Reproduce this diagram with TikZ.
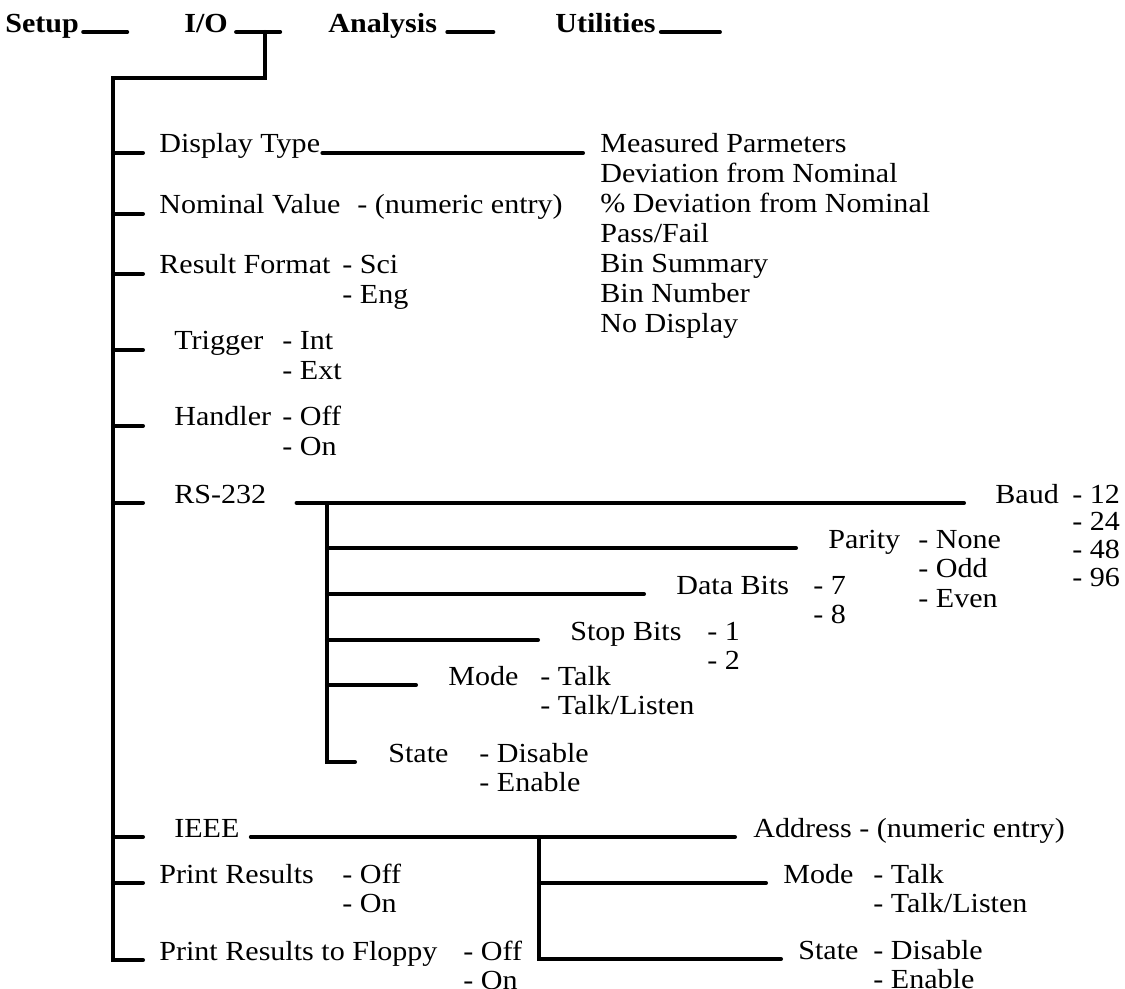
\documentclass[tikz,border=0pt]{standalone}
\usepackage{fontspec}
\setmainfont{Liberation Serif}[FakeStretch=1.09]
\usepackage{tikz}
\usetikzlibrary{calc}
\newcommand{\optlist}[1]{\begin{tabular}[t]{@{}l@{}}#1\end{tabular}}

\begin{document}
\begin{tikzpicture}[x=0.02cm,y=-0.02cm]
            \tikzstyle{menu} = [inner sep=0pt, anchor=base west, font=\fontsize{15.7}{17}\selectfont\bfseries]
            \tikzstyle{item} = [inner sep=0pt, anchor=base west, font=\fontsize{15.7}{17}\selectfont]
            \tikzstyle{wire} = [line width=2.3pt, line cap=round]
            \useasboundingbox (0,0) rectangle (1125,989);

            \node [menu] (setup) at (5,33) {Setup};
            \node [menu] (io) at (184,33) {I/O};
            \node [menu] (analysis) at (328,33) {Analysis};
            \node [menu] (utilities) at (555,33) {Utilities};

            \coordinate (ioDrop) at (265,32);
            \coordinate (trunkTop) at (113,78);
            \node [item] (displayType) at (159,153) {Display Type};
            \node [item] (measured) at (600,153) {\optlist{Measured Parmeters\\Deviation from Nominal\\\% Deviation from Nominal\\Pass/Fail\\Bin Summary\\Bin Number\\No Display}};
            \node [item] (nominalValue) at (159,214) {Nominal Value};
            \node [item] (nominalOpt) at (357,214) {- (numeric entry)};
            \node [item] (resultFormat) at (159,274) {Result Format};
            \node [item] (resultOpt) at (342,274) {\optlist{- Sci\\- Eng}};
            \node [item] (trigger) at (174,350) {Trigger};
            \node [item] (triggerOpt) at (282,350) {\optlist{- Int\\- Ext}};
            \node [item] (handler) at (174,426) {Handler};
            \node [item] (handlerOpt) at (282,426) {\optlist{- Off\\- On}};

            \node [item] (rs) at (174,503) {RS-232};
            \coordinate (rsBus) at (327,503);
            \node [item] (baud) at (995,503) {Baud};
            \node [item, font=\fontsize{15.7}{15.9}\selectfont] (baudOpt) at (1072,503) {\optlist{- 12\\- 24\\- 48\\- 96}};
            \node [item] (parity) at (828,548) {Parity};
            \node [item] (parityOpt) at (918,548) {\optlist{- None\\- Odd\\- Even}};
            \node [item] (dataBits) at (676,594) {Data Bits};
            \node [item] (dataOpt) at (813,594) {\optlist{- 7\\- 8}};
            \node [item] (stopBits) at (570,640) {Stop Bits};
            \node [item] (stopOpt) at (707,640) {\optlist{- 1\\- 2}};
            \node [item] (rsMode) at (448,685) {Mode};
            \node [item] (rsModeOpt) at (540,685) {\optlist{- Talk\\- Talk/Listen}};
            \node [item] (rsState) at (388,762) {State};
            \node [item] (rsStateOpt) at (479,762) {\optlist{- Disable\\- Enable}};

            \node [item] (ieee) at (174,837) {IEEE};
            \coordinate (ieeeBus) at (539,837);
            \node [item] (address) at (753,837) {Address - (numeric entry)};
            \node [item] (ieeeMode) at (783,883) {Mode};
            \node [item] (ieeeModeOpt) at (873,883) {\optlist{- Talk\\- Talk/Listen}};
            \node [item] (ieeeState) at (798,959) {State};
            \node [item] (ieeeStateOpt) at (873,959) {\optlist{- Disable\\- Enable}};
            \node [item] (printResults) at (159,883) {Print Results};
            \node [item] (printOpt) at (342,883) {\optlist{- Off\\- On}};
            \node [item] (floppy) at (159,960) {Print Results to Floppy};
            \node [item] (floppyOpt) at (463,960) {\optlist{- Off\\- On}};

            \draw [wire] ($(setup.base east)+(4,-1)$) -- ++(44,0);
            \draw [wire] ($(io.base east)+(8,-1)$) -- ++(44,0);
            \draw [wire] ($(analysis.base east)+(10,-1)$) -- ++(46,0);
            \draw [wire] ($(utilities.base east)+(5,-1)$) -- ++(59,0);
            \draw [wire] (ioDrop) -- (ioDrop |- trunkTop) -- (trunkTop) -- (trunkTop |- floppy.base) -- ++(30,0);
            \draw [wire] (trunkTop |- displayType.base) -- ++(30,0);
            \draw [wire] (trunkTop |- nominalValue.base) -- ++(30,0);
            \draw [wire] (trunkTop |- resultFormat.base) -- ++(30,0);
            \draw [wire] (trunkTop |- trigger.base) -- ++(30,0);
            \draw [wire] (trunkTop |- handler.base) -- ++(30,0);
            \draw [wire] (trunkTop |- rs.base) -- ++(30,0);
            \draw [wire] (trunkTop |- ieee.base) -- ++(30,0);
            \draw [wire] (trunkTop |- printResults.base) -- ++(30,0);
            \draw [wire] ($(displayType.base east)+(2,0)$) -- ($(measured.base west)+(-17,0)$);

            \draw [wire] ($(rs.base east)+(30,0)$) -- ($(baud.base west)+(-31,0)$);
            \draw [wire] (rsBus) -- (rsBus |- rsState.base) -- ($(rsState.base west)+(-33,0)$);
            \draw [wire] (rsBus |- parity.base) -- ($(parity.base west)+(-32,0)$);
            \draw [wire] (rsBus |- dataBits.base) -- ($(dataBits.base west)+(-32,0)$);
            \draw [wire] (rsBus |- stopBits.base) -- ($(stopBits.base west)+(-32,0)$);
            \draw [wire] (rsBus |- rsMode.base) -- ($(rsMode.base west)+(-32,0)$);

            \draw [wire] ($(ieee.base east)+(11,0)$) -- ($(address.base west)+(-18,0)$);
            \draw [wire] (ieeeBus) -- (ieeeBus |- ieeeState.base) -- ($(ieeeState.base west)+(-17,0)$);
            \draw [wire] (ieeeBus |- ieeeMode.base) -- ($(ieeeMode.base west)+(-17,0)$);
\end{tikzpicture}
\end{document}
